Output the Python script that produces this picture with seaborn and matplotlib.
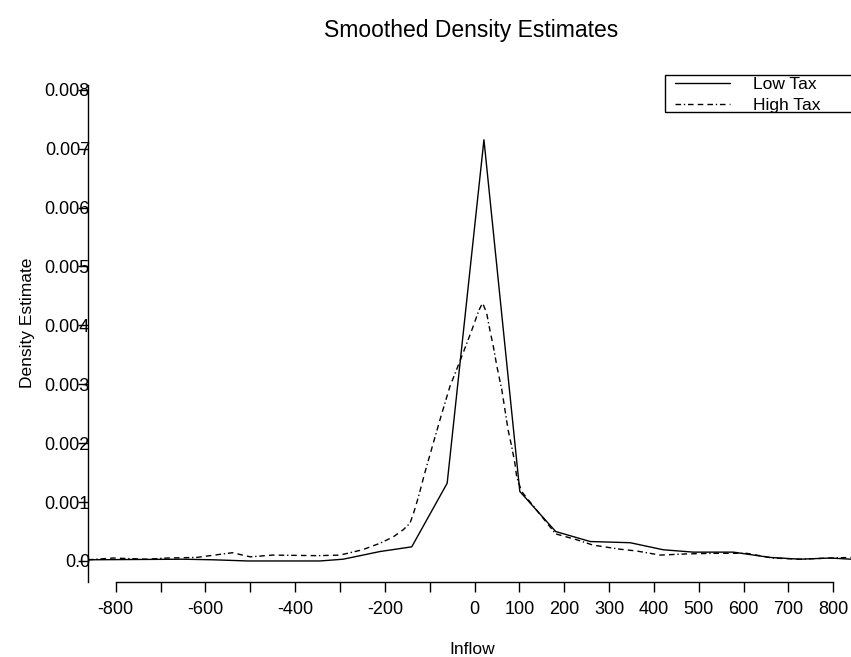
import matplotlib
matplotlib.use("Agg")
import matplotlib.pyplot as plt
from matplotlib.patches import Rectangle
from matplotlib.ticker import FixedLocator, FixedFormatter
import pandas as pd
import seaborn as sns

# density estimates, per group
low_x = [-862, -650, -583, -505, -345, -293, -211, -140, -61, 21, 101, 181,
         258, 347, 421, 488, 577, 659, 726, 793, 840]
low_y = [0.00002, 0.00003, 0.00002, 0.0, 0.0, 0.00003, 0.00016, 0.00024,
         0.00132, 0.00715, 0.00118, 0.00050, 0.00033, 0.00031, 0.00019,
         0.00015, 0.00015, 0.00006, 0.00003, 0.00005, 0.00003]

high_x = [-862, -806, -731, -686, -620, -540, -500, -450, -350, -300, -250,
          -211, -181, -159, -144, -136, -125, -110, -92, -75, -55, -43, -23,
          -6, 10, 18, 27, 35, 42, 50, 61, 68, 75, 83, 90, 94, 105, 181, 228,
          264, 324, 361, 414, 473, 532, 607, 665, 726, 793, 840]
high_y = [0.00002, 0.00005, 0.00003, 0.00005, 0.00006, 0.00014, 0.00007,
          0.00010, 0.00009, 0.00010, 0.00019, 0.00030, 0.00041, 0.00053,
          0.00064, 0.00081, 0.00109, 0.00152, 0.00200, 0.00245, 0.00296,
          0.00319, 0.00358, 0.00392, 0.00426, 0.00438, 0.00421, 0.00389,
          0.00364, 0.00330, 0.00290, 0.00256, 0.00222, 0.00194, 0.00166,
          0.00143, 0.00118, 0.00046, 0.00036, 0.00027, 0.00020, 0.00017,
          0.00010, 0.00012, 0.00013, 0.00013, 0.00005, 0.00003, 0.00005,
          0.00006]

groups = ["Low Tax", "High Tax"]
x_ticks = list(range(-800, 801, 100))
x_tick_labels = ["-800", "", "-600", "", "-400", "", "-200", "", "0", "100",
                 "200", "300", "400", "500", "600", "700", "800"]
y_ticks = [0.0, 0.001, 0.002, 0.003, 0.004, 0.005, 0.006, 0.007, 0.008]
y_tick_labels = ["0.0", "0.001", "0.002", "0.003", "0.004", "0.005",
                 "0.006", "0.007", "0.008"]

df = pd.concat([
    pd.DataFrame({"Inflow": low_x, "Density": low_y, "group": groups[0]}),
    pd.DataFrame({"Inflow": high_x, "Density": high_y, "group": groups[1]}),
], ignore_index=True)

sns.set_style("white")
plt.rcParams["font.family"] = ["Liberation Sans", "DejaVu Sans"]
plt.rcParams.update({"text.color": "black", "axes.labelcolor": "black",
                     "xtick.color": "black", "ytick.color": "black"})
FS = 13

W, H = 851, 657
fig = plt.figure(figsize=(W / 100, H / 100), dpi=100)
ax = fig.add_axes([88 / W, 1 - 582 / H, (W - 88) / W, (582 - 85) / H])

sns.lineplot(data=df, x="Inflow", y="Density", style="group",
             style_order=groups, color="black", linewidth=1.0, sort=False,
             dashes={"Low Tax": "", "High Tax": (4, 2, 1, 2, 4, 3, 4, 3)},
             estimator=None, ax=ax)

ax.set_xlim(-862, 839.6)
ax.set_ylim(-0.000357, 0.00808)

ax.xaxis.set_major_locator(FixedLocator(x_ticks))
ax.xaxis.set_major_formatter(FixedFormatter(x_tick_labels))
ax.yaxis.set_major_locator(FixedLocator(y_ticks))
ax.yaxis.set_major_formatter(FixedFormatter(y_tick_labels))
ax.tick_params(axis="x", direction="out", length=7.2, width=1,
               pad=6.5, labelsize=FS, bottom=True)
ax.tick_params(axis="y", direction="out", length=7.2, width=1,
               pad=-8.6, labelsize=FS, left=True)

for side in ["top", "right"]:
    ax.spines[side].set_visible(False)
ax.spines["bottom"].set_bounds(-800, 800)
for side in ["left", "bottom"]:
    ax.spines[side].set_color("black")
    ax.spines[side].set_linewidth(1)

ax.set_xlabel("Inflow", fontsize=12.5)
ax.xaxis.set_label_coords((472 - 88) / (W - 88), (582 - 649) / (582 - 85))
ax.xaxis.label.set_va("center")
ax.set_ylabel("Density Estimate", fontsize=12.5)
ax.yaxis.set_label_coords((27.5 - 88) / (W - 88), (582 - 323) / (582 - 85))
ax.yaxis.label.set_va("center")

fig.text(471 / W, 1 - 30 / H, "Smoothed Density Estimates", fontsize=16.5,
         ha="center", va="center")

# legend: square frame running off the right edge, entries inset
handles = ax.get_legend().legend_handles
ax.get_legend().remove()
fig.patches.append(Rectangle((665 / W, 1 - 112 / H), 200 / W, 37 / H,
                             transform=fig.transFigure, fill=False,
                             edgecolor="black", linewidth=1))
fig.legend(handles, groups, loc="upper left",
           bbox_to_anchor=(673 / W, 1 - 75.5 / H),
           bbox_transform=fig.transFigure, frameon=False,
           fontsize=12.5, handlelength=3.2, handletextpad=1.3,
           labelspacing=0.3, borderpad=0.1, borderaxespad=0)

fig.savefig("out.png", dpi=100)
